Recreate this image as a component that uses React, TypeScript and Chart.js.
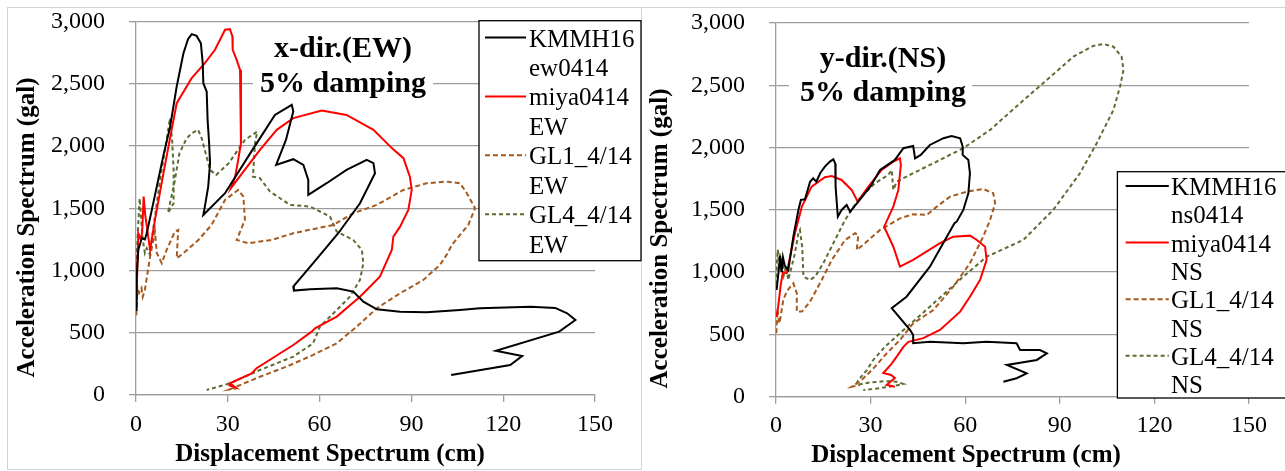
import React, { useEffect, useRef } from "react";
import { Chart, registerables } from "chart.js";

Chart.register(...registerables);

// ---------- tick values ----------
const xTickValues = [0, 30, 60, 90, 120, 150];
const yTickValues = [0, 500, 1000, 1500, 2000, 2500, 3000];

// ---------- series names ----------
const ewNames = [["KMMH16", "ew0414"], ["miya0414", "EW"], ["GL1_4/14", "EW"], ["GL4_4/14", "EW"]];
const nsNames = [["KMMH16", "ns0414"], ["miya0414", "NS"], ["GL1_4/14", "NS"], ["GL4_4/14", "NS"]];

// ---------- x-dir (EW) data: [displacement cm, acceleration gal] ----------
const ewKmmh16 = [
  [0, 683], [0.2, 951], [0.75, 1166], [1.9, 1260], [2.9, 1250], [3.5, 1300], [5.1, 1480], [6.8, 1675],
  [9, 1930], [11.1, 2150], [13.3, 2479], [15.5, 2747], [17, 2860], [18.2, 2900], [19.8, 2886], [21.2, 2827],
  [21.8, 2667], [22, 2506], [23.1, 2439], [23.4, 2211], [23.9, 2024], [24.2, 1863], [23.6, 1675], [22.5, 1514],
  [22, 1447], [29.1, 1622], [37, 1930], [45.4, 2251], [50.9, 2332], [51.4, 2278], [49, 2050], [45.8, 1849],
  [51.4, 1895], [54.7, 1849], [56.3, 1729], [56.3, 1608], [62.3, 1702], [68.8, 1809], [75.4, 1889], [77.6, 1863],
  [78.1, 1782], [73.2, 1541], [66.1, 1300], [57.9, 1059], [51.4, 871], [51.6, 839], [56.9, 850], [65.6, 858],
  [71, 831], [74.3, 750], [78.7, 689], [86.3, 670], [95, 665], [105.9, 683], [112.4, 697], [129, 710],
  [137, 700], [140.9, 657], [143.6, 603], [138.3, 509], [117.6, 356], [126.2, 313], [122.3, 241], [103, 161],
];
const ewMiya = [
  [0.1, 710], [0.75, 1300], [1.5, 1250], [2.0, 1300], [2.5, 1594], [3, 1450], [4.6, 1166], [6.2, 1407],
  [8.5, 1720], [10.6, 1996], [13.3, 2345], [18.2, 2546], [22.5, 2667], [25.8, 2774], [28, 2881], [29.1, 2935],
  [30.7, 2940], [31.5, 2881], [31.6, 2774], [32.9, 2693], [34, 2613], [34.3, 2345], [34.3, 2024], [33.4, 1889],
  [32.4, 1755], [31, 1662], [40.5, 1970], [46, 2131], [51.4, 2225], [60.7, 2286], [68.8, 2251], [77.6, 2131],
  [83.6, 1984], [87.4, 1903], [89.5, 1755], [90.1, 1648], [89, 1487], [86.3, 1353], [84.1, 1273], [83.6, 1166],
  [79.7, 951], [73.2, 790], [65.6, 630], [58.5, 536], [57.4, 509], [51.4, 402], [39.4, 215], [37.8, 174],
  [30.7, 94], [32.4, 62], [30.2, 80],
];
const ewGl1 = [
  [0.1, 640], [0.4, 870], [1, 820], [1.8, 860], [2.2, 790], [2.9, 844], [4.6, 1112], [6.2, 1313],
  [6.8, 1141], [8.4, 1059], [10, 1166], [12.7, 1313], [13.8, 1327], [13.3, 1099], [15.5, 1139], [20.4, 1246],
  [24.7, 1367], [29.1, 1568], [33.4, 1648], [35.1, 1594], [35.6, 1407], [32.9, 1246], [36.7, 1220], [44.3, 1246],
  [51.4, 1300], [64.5, 1367], [71, 1461], [78.7, 1528], [87.4, 1648], [95, 1702], [101.5, 1715], [105.9, 1702],
  [108.1, 1622], [110.8, 1501], [108.6, 1367], [105.9, 1286], [103.2, 1206], [101.5, 1126], [99.3, 1045], [93.9, 925],
  [86.3, 818], [78.7, 697], [72.1, 549], [65.6, 416], [57.9, 322], [49.2, 228], [40.5, 147], [30.7, 46], [33, 55],
];
const ewGl4 = [
  [0.1, 980], [0.4, 1200], [0.8, 1400], [1.2, 1580], [1.6, 1450], [2.2, 1250], [2.9, 1141], [3.5, 1180],
  [4.5, 1130], [6, 1400], [8, 1750], [10, 2050], [11.1, 2225], [11.8, 2050], [12.3, 1809], [12.3, 1541],
  [10.4, 1461], [12.5, 1700], [14.2, 1943], [16.5, 2060], [18.2, 2104], [20.3, 2131], [21.5, 2060], [22.2, 1996],
  [24.2, 1809], [26.2, 1769], [30.3, 1863], [35.6, 2050], [39.6, 2117], [38.9, 2024], [38.2, 1755], [40.5, 1742],
  [43.8, 1635], [50.3, 1528], [56.9, 1514], [59.1, 1487], [63.4, 1434], [65.6, 1313], [71, 1246], [73.8, 1166],
  [74.3, 1059], [73.2, 925], [69.9, 790], [65.6, 683], [60.1, 549], [57.9, 416], [51.4, 308], [40.5, 201],
  [30.7, 94], [23.1, 40],
];

// ---------- y-dir (NS) data ----------
const nsKmmh16 = [
  [0.2, 857], [0.8, 1000], [1.3, 1130], [1.8, 1000], [2.2, 1120], [2.8, 1050], [3.9, 1017], [5.5, 1285],
  [7.1, 1499], [7.9, 1580], [9.2, 1585], [10.8, 1726], [11.8, 1753], [12.8, 1726], [14, 1794], [15.5, 1847],
  [17.1, 1887], [18.2, 1906], [18.8, 1870], [18.9, 1686], [19.6, 1445], [20.8, 1499], [22.4, 1539], [23.5, 1486],
  [26.1, 1566], [30, 1690], [33, 1820], [37.7, 1901], [40.4, 1995], [43.5, 2013], [44.1, 1914], [45.9, 1941],
  [48.8, 2021], [53.1, 2075], [55.7, 2093], [58.4, 2075], [59.2, 2008], [59.2, 1941], [61, 1901], [61.5, 1794],
  [61, 1633], [59.4, 1499], [57.3, 1405], [56.6, 1392], [48.8, 1044], [41.4, 803], [36.7, 710], [42.5, 536],
  [43.5, 495], [43.5, 429], [48.8, 442], [59.4, 429], [66.8, 442], [76.3, 429], [77.4, 375], [83.7, 375],
  [85.9, 348], [82.7, 295], [73.2, 255], [79.5, 188], [76.3, 148], [72.1, 120],
];
const nsMiya = [
  [0.1, 640], [0.7, 723], [1.5, 900], [2.2, 1000], [3.4, 991], [6, 1312], [8.2, 1526], [11.3, 1686],
  [15.5, 1762], [17.7, 1772], [20.8, 1740], [24, 1660], [25.9, 1566], [29.3, 1686], [33.5, 1820], [37.2, 1887],
  [39.3, 1914], [39.6, 1860], [38.8, 1660], [37.2, 1526], [34.3, 1365], [37.2, 1204], [39.3, 1044], [43.5, 1098],
  [52, 1232], [56.2, 1285], [61.5, 1293], [63.7, 1258], [66.3, 1204], [66.8, 1098], [64.7, 937], [61.5, 803],
  [58.4, 683], [52, 536], [46.7, 470], [42, 440], [40.4, 400], [38.5, 330], [36.5, 260], [34, 190],
  [36.5, 174], [37.7, 150], [35.1, 94], [37.7, 80],
];
const nsGl1 = [
  [0.1, 510], [0.5, 700], [1, 589], [1.3, 616], [2.3, 776], [3.5, 850], [5.5, 910], [6.6, 830],
  [6.6, 683], [8.2, 683], [10.8, 763], [14.5, 937], [17.7, 1098], [21.9, 1258], [25.1, 1312], [26.1, 1298],
  [25.6, 1178], [28.2, 1232], [33, 1339], [39.3, 1432], [43.5, 1465], [47.8, 1459], [51, 1526], [55.2, 1606],
  [60.5, 1646], [65.7, 1668], [68.9, 1633], [69.5, 1553], [67.9, 1419], [65.7, 1285], [61.5, 1071], [56.2, 883],
  [49.9, 696], [43.5, 589], [39.3, 455], [35.1, 348], [31, 230], [27, 130], [24, 80], [26.6, 94],
];
const nsGl4 = [
  [0.1, 900], [0.3, 1100], [0.6, 1180], [0.9, 1050], [1.2, 1150], [1.6, 1000], [2, 1120], [2.5, 980],
  [3.2, 1050], [3.9, 937], [6, 1151], [7.1, 1312], [7.6, 1339], [8.3, 1204], [8.7, 964], [10.8, 937],
  [12.4, 964], [15, 1071], [18.7, 1258], [21.9, 1419], [26.1, 1580], [31.4, 1714], [35.6, 1780], [36.7, 1820],
  [37.2, 1660], [38.3, 1727], [43.5, 1794], [49.9, 1874], [59.4, 1995], [67.9, 2142], [77.4, 2356], [85.9, 2543],
  [94.3, 2730], [100.6, 2816], [103.8, 2832], [107, 2810], [109.6, 2730], [110.2, 2623], [109.1, 2489], [107, 2302],
  [101.7, 2035], [96.4, 1794], [87.9, 1499], [78.4, 1258], [66.8, 1124], [59.4, 964], [48.8, 723], [39.3, 509],
  [34.6, 402], [31, 300], [28.8, 214], [26, 130], [25.5, 95], [30, 115], [35, 125], [38.3, 120],
  [40.4, 102], [36, 80], [31, 62], [27.7, 54],
];

const COLORS = ["#000000", "#FF0000", "#A65A1E", "#5A6E32"];
const DASHES: number[][] = [[], [], [5, 3], [4, 3]];
const SERIF = "'Liberation Serif', 'Times New Roman', serif";
const GRID = "#9C9C9C";

type PanelSpec = {
  canvasW: number;
  series: number[][][];
  names: string[][];
  padTop: number;
  padRight: number;
  yAxisW: number;
  xAxisH: number;
  title: [string, string];
  titleCx: number;
  titleY: [number, number];
  titleBox: [number, number, number, number];
  legend: { x0: number; y0: number; x1: number; y1: number; lx0: number; lx1: number; tx: number; base: number; step: number };
  xTitle: [number, number];
  yTitle: [number, number];
  frame: "left" | "right";
};

function makePlugin(p: PanelSpec) {
  return {
    id: "decor",
    beforeDraw(chart: any) {
      const ctx = chart.ctx;
      ctx.save();
      ctx.fillStyle = "#ffffff";
      ctx.fillRect(0, 0, chart.width, chart.height);
      ctx.strokeStyle = "#D4D4D4";
      ctx.lineWidth = 1;
      if (p.frame === "left") {
        ctx.strokeRect(7.5, 7.5, p.canvasW - 8, 462);
      } else {
        ctx.beginPath();
        ctx.moveTo(0, 7.5);
        ctx.lineTo(p.canvasW, 7.5);
        ctx.stroke();
      }
      ctx.restore();
    },
    afterDraw(chart: any) {
      const ctx = chart.ctx;
      ctx.save();
      // title box
      const [bx, by, bw, bh] = p.titleBox;
      ctx.fillStyle = "#ffffff";
      ctx.fillRect(bx, by, bw, bh);
      ctx.fillStyle = "#000000";
      ctx.font = `bold 30px ${SERIF}`;
      ctx.textAlign = "center";
      ctx.textBaseline = "middle";
      ctx.fillText(p.title[0], p.titleCx, p.titleY[0]);
      ctx.fillText(p.title[1], p.titleCx, p.titleY[1]);

      // axis titles
      ctx.font = `bold 25px ${SERIF}`;
      ctx.fillText("Displacement Spectrum (cm)", p.xTitle[0], p.xTitle[1]);
      ctx.save();
      ctx.translate(p.yTitle[0], p.yTitle[1]);
      ctx.rotate(-Math.PI / 2);
      ctx.fillText("Acceleration Spectrum (gal)", 0, 0);
      ctx.restore();

      // legend
      const L = p.legend;
      ctx.fillStyle = "#ffffff";
      ctx.fillRect(L.x0, L.y0, L.x1 - L.x0, L.y1 - L.y0);
      ctx.strokeStyle = "#000000";
      ctx.lineWidth = 1.3;
      ctx.strokeRect(L.x0, L.y0, L.x1 - L.x0, L.y1 - L.y0);
      ctx.font = `25px ${SERIF}`;
      ctx.textAlign = "left";
      ctx.textBaseline = "alphabetic";
      ctx.fillStyle = "#000000";
      p.names.forEach((nm, i) => {
        const b1 = L.base + L.step * (2 * i);
        const b2 = L.base + L.step * (2 * i + 1);
        ctx.save();
        ctx.strokeStyle = COLORS[i];
        ctx.lineWidth = 2;
        ctx.setLineDash(DASHES[i]);
        ctx.beginPath();
        ctx.moveTo(L.lx0, b1 - 9);
        ctx.lineTo(L.lx1, b1 - 9);
        ctx.stroke();
        ctx.restore();
        ctx.fillText(nm[0], L.tx, b1);
        ctx.fillText(nm[1], L.tx, b2);
      });
      ctx.restore();
    },
  };
}

function zeroPad(s: any) {
  s.paddingTop = 0;
  s.paddingBottom = 0;
  s.paddingLeft = 0;
  s.paddingRight = 0;
}

function makeConfig(p: PanelSpec): any {
  return {
    type: "scatter",
    data: {
      datasets: p.series.map((s, i) => ({
        label: p.names[i].join(" "),
        data: s.map(([x, y]) => ({ x, y })),
        showLine: true,
        borderColor: COLORS[i],
        backgroundColor: COLORS[i],
        borderWidth: 2,
        borderDash: DASHES[i],
        pointRadius: 0,
        tension: 0,
        fill: false,
      })),
    },
    options: {
      animation: false,
      responsive: false,
      devicePixelRatio: 1,
      layout: { padding: { top: p.padTop, right: p.padRight, left: 0, bottom: 0 } },
      plugins: { legend: { display: false }, tooltip: { enabled: false }, title: { display: false } },
      scales: {
        x: {
          type: "linear",
          min: 0,
          max: 150,
          afterBuildTicks: (s: any) => {
            s.ticks = xTickValues.map((v) => ({ value: v }));
          },
          afterFit: (s: any) => {
            s.height = p.xAxisH;
            zeroPad(s);
          },
          grid: { drawOnChartArea: false, drawTicks: true, tickLength: 7, color: GRID, lineWidth: 1.3 },
          border: { display: true, color: GRID, width: 1.3 },
          ticks: { color: "#000", font: { family: SERIF, size: 24 }, padding: 8, maxRotation: 0, autoSkip: false },
        },
        y: {
          type: "linear",
          min: 0,
          max: 3000,
          afterBuildTicks: (s: any) => {
            s.ticks = yTickValues.map((v) => ({ value: v }));
          },
          afterFit: (s: any) => {
            s.width = p.yAxisW;
            zeroPad(s);
          },
          grid: { drawOnChartArea: true, drawTicks: true, tickLength: 7, color: GRID, lineWidth: 1.3 },
          border: { display: true, color: GRID, width: 1.3 },
          ticks: {
            color: "#000",
            font: { family: SERIF, size: 24 },
            padding: 24,
            autoSkip: false,
            callback: (v: any) => Number(v).toLocaleString("en-US"),
          },
        },
      },
    },
    plugins: [makePlugin(p)],
  };
}

const leftSpec: PanelSpec = {
  canvasW: 642,
  series: [ewKmmh16, ewMiya, ewGl1, ewGl4],
  names: ewNames,
  padTop: 21.7,
  padRight: 47,
  yAxisW: 136,
  xAxisH: 76,
  title: ["x-dir.(EW)", "5% damping"],
  titleCx: 343,
  titleY: [49.5, 84],
  titleBox: [253, 30, 180, 72],
  legend: { x0: 479, y0: 20.7, x1: 641, y1: 260.7, lx0: 485, lx1: 526, tx: 529, base: 46.5, step: 29.45 },
  xTitle: [330, 455],
  yTitle: [28, 227.5],
  frame: "left",
};

const rightSpec: PanelSpec = {
  canvasW: 643,
  series: [nsKmmh16, nsMiya, nsGl1, nsGl4],
  names: nsNames,
  padTop: 23,
  padRight: 36,
  yAxisW: 134,
  xAxisH: 74.3,
  title: ["y-dir.(NS)", "5% damping"],
  titleCx: 241,
  titleY: [59, 93],
  titleBox: [147, 40, 183, 72],
  legend: { x0: 475.4, y0: 171.7, x1: 660, y1: 398, lx0: 483.6, lx1: 526.8, tx: 529, base: 195, step: 28.3 },
  xTitle: [324, 456],
  yTitle: [19, 238.5],
  frame: "right",
};

function Panel({ spec, left }: { spec: PanelSpec; left: number }) {
  const ref = useRef<HTMLCanvasElement | null>(null);
  useEffect(() => {
    if (!ref.current) return;
    const chart = new Chart(ref.current, makeConfig(spec));
    return () => chart.destroy();
  }, [spec]);
  return (
    <canvas
      ref={ref}
      width={spec.canvasW}
      height={471}
      style={{ position: "absolute", left, top: 0, width: spec.canvasW, height: 471, display: "block" }}
    />
  );
}

export default function App() {
  return (
    <div style={{ position: "fixed", left: 0, top: 0, width: 1285, height: 471, background: "#fff", overflow: "hidden" }}>
      <Panel spec={leftSpec} left={0} />
      <Panel spec={rightSpec} left={642} />
    </div>
  );
}
